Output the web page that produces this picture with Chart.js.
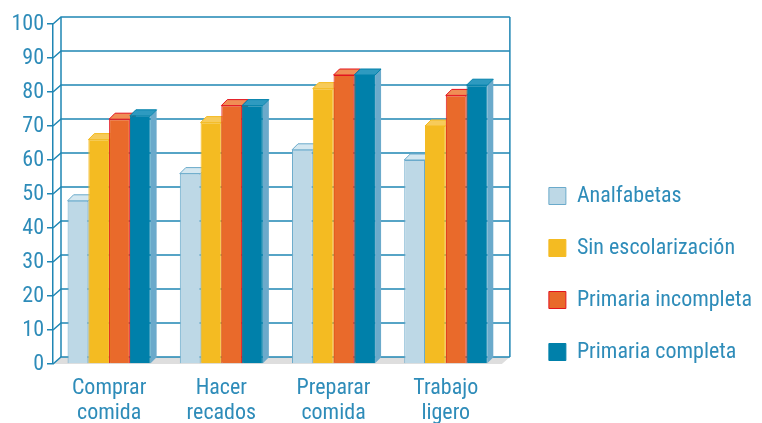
<!DOCTYPE html>
<html>
<head>
<meta charset="utf-8">
<script src="https://cdn.jsdelivr.net/npm/chart.js@4.4.1/dist/chart.umd.min.js"></script>
<style>
html, body { margin: 0; padding: 0; background: #fff; }
</style>
</head>
<body>
<canvas id="chart" width="762" height="423"></canvas>
<script>
// === datos ===
const categories = [['Comprar', 'comida'], ['Hacer', 'recados'], ['Preparar', 'comida'], ['Trabajo', 'ligero']];
const seriesNames = ['Analfabetas', 'Sin escolarización', 'Primaria incompleta', 'Primaria completa'];
const analfabetas = [48, 56, 63, 60];
const sinEscolarizacion = [66, 71, 81, 70];
const primariaIncompleta = [72, 76, 85, 79];
const primariaCompleta = [73, 76, 85, 82];
const yTickLabels = ['0', '10', '20', '30', '40', '50', '60', '70', '80', '90', '100'];

// === estilo ===
const textColor = '#2e8cb9';
const gridColor = '#1f86b4';
// 'condensed' va en el campo weight para que Chart.js lo meta en ctx.font
const baseFont = { family: 'Roboto', weight: 'condensed', size: 22 };
const fillColors = ['#bdd8e6', '#f4bb22', '#e96a2b', '#0080aa'];
const edgeColors = ['#6aaacb', '#f4bb22', '#e3141f', '#0080aa'];
const topColors = ['#d4e7f0', '#f7cb5a', '#f08e55', '#2e9ac0'];
const sideColors = ['#9cc4da', '#dca31a', '#c9521e', '#6baacb'];

const DX = 6, DY = 6;   // profundidad de las barras
const WX = 8, WY = 7;   // profundidad de la pared

const wall3d = {
    id: 'wall3d',
    beforeDatasetsDraw(chart) {
        const { ctx, chartArea: a, scales: { y } } = chart;
        ctx.save();
        const y0 = y.getPixelForValue(0);
        const y100 = y.getPixelForValue(100);

        // suelo
        ctx.fillStyle = '#dedede';
        ctx.beginPath();
        ctx.moveTo(a.left, y0);
        ctx.lineTo(a.left + WX, y0 - WY);
        ctx.lineTo(a.right + WX, y0 - WY);
        ctx.lineTo(a.right, y0);
        ctx.closePath();
        ctx.fill();

        // rejilla de la pared del fondo
        ctx.strokeStyle = gridColor;
        ctx.lineWidth = 1.5;
        y.ticks.forEach(t => {
            const py = y.getPixelForValue(t.value);
            ctx.beginPath();
            ctx.moveTo(a.left, py);
            ctx.lineTo(a.left + WX, py - WY);
            ctx.lineTo(a.right + WX, py - WY);
            ctx.stroke();
        });
        ctx.beginPath();
        ctx.moveTo(a.left + WX, y0 - WY);
        ctx.lineTo(a.left + WX, y100 - WY);
        ctx.moveTo(a.right + WX, y0 - WY);
        ctx.lineTo(a.right + WX, y100 - WY);
        ctx.stroke();

        // caras laterales y superiores
        ctx.lineWidth = 1;
        chart.data.datasets.forEach((ds, i) => {
            chart.getDatasetMeta(i).data.forEach(bar => {
                const { x, y: top, base, width } = bar.getProps(['x', 'y', 'base', 'width']);
                const l = x - width / 2, r = x + width / 2;
                ctx.fillStyle = sideColors[i];
                ctx.beginPath();
                ctx.moveTo(r, top);
                ctx.lineTo(r + DX, top - DY);
                ctx.lineTo(r + DX, base - DY);
                ctx.lineTo(r, base);
                ctx.closePath();
                ctx.fill();
                ctx.fillStyle = topColors[i];
                ctx.strokeStyle = edgeColors[i];
                ctx.beginPath();
                ctx.moveTo(l, top);
                ctx.lineTo(l + DX, top - DY);
                ctx.lineTo(r + DX, top - DY);
                ctx.lineTo(r, top);
                ctx.closePath();
                ctx.fill();
                ctx.stroke();
            });
        });
        ctx.restore();
    }
};

const seriesValues = [analfabetas, sinEscolarizacion, primariaIncompleta, primariaCompleta];

new Chart(document.getElementById('chart'), {
    type: 'bar',
    data: {
        labels: categories,
        datasets: seriesNames.map((name, i) => ({
            label: name,
            data: seriesValues[i],
            backgroundColor: fillColors[i],
            borderColor: edgeColors[i],
            borderWidth: 1,
            categoryPercentage: 0.74,
            barPercentage: 1.0
        }))
    },
    options: {
        responsive: false,
        animation: false,
        devicePixelRatio: 1,
        layout: { padding: { top: 24, bottom: 30, left: 0, right: 0 } },
        scales: {
            x: {
                grid: { display: false },
                border: { display: false },
                ticks: {
                    color: textColor,
                    font: { ...baseFont, lineHeight: 1.15 },
                    padding: 4,
                    maxRotation: 0
                },
                afterFit(s) {
                    s.height = 29;
                    // las etiquetas bajan por el relleno inferior; sin recorte
                    s._computeLabelArea = () => null;
                }
            },
            y: {
                min: 0,
                max: 100,
                ticks: {
                    stepSize: 10,
                    color: textColor,
                    font: baseFont,
                    padding: 3,
                    callback: (v, i) => yTickLabels[i]
                },
                grid: { drawOnChartArea: false, drawTicks: true, tickLength: 6, color: gridColor, lineWidth: 1.5 },
                border: { display: true, color: gridColor, width: 1.5 },
                afterFit(s) { s.width = 53; }
            },
            y2: {
                position: 'right',
                grid: { display: false },
                border: { display: false },
                ticks: { display: false },
                afterFit(s) { s.width = 17; }
            }
        },
        plugins: {
            legend: {
                position: 'right',
                align: 'end',
                maxWidth: 300,
                labels: {
                    boxWidth: 17,
                    boxHeight: 17,
                    padding: 30,
                    color: textColor,
                    font: baseFont
                }
            },
            tooltip: { enabled: false }
        }
    },
    plugins: [wall3d]
});
</script>
</body>
</html>
